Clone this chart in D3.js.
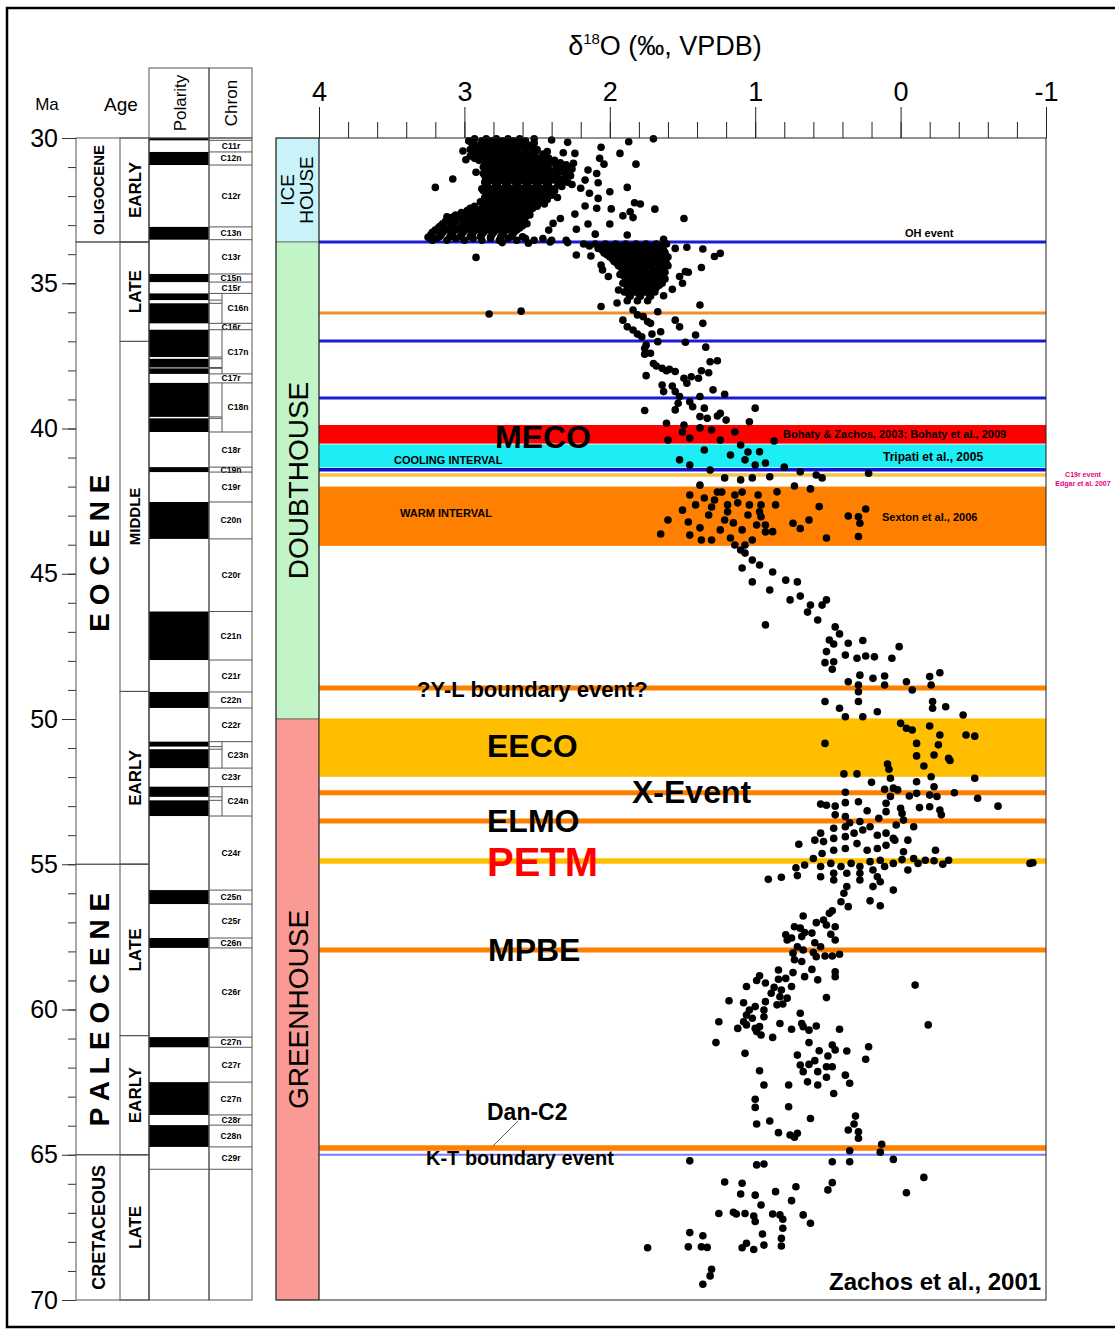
<!DOCTYPE html>
<head>
<meta charset="utf-8">
<script src="https://d3js.org/d3.v7.min.js"></script>
<style>
  body { margin:0; background:#fff; }
  text { font-family: "Liberation Sans", Arial, sans-serif; }
</style>
</head>
<body>
<script>
// ---------------- data ----------------
var ageMajor = [30, 35, 40, 45, 50, 55, 60, 65, 70];
var isoMajor = [4, 3, 2, 1, 0, -1];

// [name, top Ma, base Ma]
var epochs = [["OLIGOCENE", 30, 33.58], ["E O C E N E", 33.58, 55], ["P A L E O C E N E", 55, 65], ["CRETACEOUS", 65, 70]];
var subEpochs = [["EARLY", 30, 33.58], ["LATE", 33.58, 37], ["MIDDLE", 37, 49.05], ["EARLY", 49.05, 55],
                 ["LATE", 55, 60.9], ["EARLY", 60.9, 65], ["LATE", 65, 70]];
var climate = [["ICE|HOUSE", 30, 33.58], ["DOUBTHOUSE", 33.58, 50], ["GREENHOUSE", 50, 70]];

// normal polarity intervals (black)
var normalPolarity = [[30.0, 30.08], [30.48, 30.93], [33.06, 33.5], [34.68, 34.96], [35.35, 35.58], [35.69, 36.38],
  [36.6, 37.54], [37.6, 37.9], [37.93, 38.12], [38.43, 39.6], [39.65, 40.12], [41.33, 41.5], [42.53, 43.8],
  [46.3, 47.97], [49.07, 49.62], [50.78, 50.95], [51.04, 51.69], [52.33, 52.68], [52.8, 53.34], [55.89, 56.37],
  [57.54, 57.88], [60.95, 61.3], [62.5, 63.63], [63.98, 64.73]];

var chrons = [["C11r", 30.08, 30.48], ["C12n", 30.48, 30.93], ["C12r", 30.93, 33.06], ["C13n", 33.06, 33.5],
  ["C13r", 33.5, 34.68], ["C15n", 34.68, 34.96], ["C15r", 34.96, 35.35], ["C16n", 35.35, 36.38], ["C16r", 36.38, 36.6],
  ["C17n", 36.6, 38.12], ["C17r", 38.12, 38.43], ["C18n", 38.43, 40.12], ["C18r", 40.12, 41.33], ["C19n", 41.33, 41.5],
  ["C19r", 41.5, 42.53], ["C20n", 42.53, 43.8], ["C20r", 43.8, 46.3], ["C21n", 46.3, 47.97], ["C21r", 47.97, 49.07],
  ["C22n", 49.07, 49.62], ["C22r", 49.62, 50.78], ["C23n", 50.78, 51.69], ["C23r", 51.69, 52.33], ["C24n", 52.33, 53.34],
  ["C24r", 53.34, 55.89], ["C25n", 55.89, 56.37], ["C25r", 56.37, 57.54], ["C26n", 57.54, 57.88], ["C26r", 57.88, 60.95],
  ["C27n", 60.95, 61.3], ["C27r", 61.3, 62.5], ["C27n", 62.5, 63.63], ["C28r", 63.63, 63.98], ["C28n", 63.98, 64.73],
  ["C29r", 64.73, 65.5]];
var splitChrons = ["C16n", "C17n", "C18n", "C23n", "C24n"];

// event bands [key, top Ma, base Ma] and lines [key, Ma]
var eventBands = [["MECO", 39.88, 40.52], ["COOLING", 40.55, 41.34], ["WARM", 42.0, 44.04], ["EECO", 49.98, 51.99]];
var eventLines = [["OH", 33.58], ["L36", 36.02], ["L37", 36.99], ["L39", 38.95], ["C19r", 41.42], ["C19rb", 41.6],
  ["YL", 48.93], ["X", 52.54], ["ELMO", 53.51], ["PETM", 54.89], ["MPBE", 57.95], ["DanC2", 64.77], ["KT", 65.0]];

// d18O data [d18O permil, age Ma] -- dense clusters as rows [age, [d18O ...]]
var oligoceneRows = [
  [30.03, [2.93, 2.85, 2.78, 2.70, 2.62]],
  [30.1, [2.97, 2.88, 2.81, 2.74, 2.66, 2.58]],
  [30.17, [2.95, 2.87, 2.80, 2.73, 2.66, 2.59, 2.52]],
  [30.25, [2.92, 2.84, 2.77, 2.70, 2.62, 2.55]],
  [30.32, [2.90, 2.83, 2.76, 2.69, 2.62, 2.54]],
  [30.4, [2.96, 2.87, 2.80, 2.73, 2.66, 2.58, 2.50]],
  [30.47, [2.93, 2.86, 2.79, 2.72, 2.65, 2.58, 2.51, 2.43]],
  [30.55, [2.90, 2.83, 2.76, 2.69, 2.62, 2.54, 2.46]],
  [30.62, [2.96, 2.89, 2.82, 2.75, 2.68, 2.61, 2.54, 2.46]],
  [30.7, [2.93, 2.86, 2.79, 2.72, 2.65, 2.58, 2.50, 2.42]],
  [30.77, [2.90, 2.82, 2.75, 2.68, 2.61, 2.54, 2.46, 2.38]],
  [30.85, [2.84, 2.77, 2.70, 2.63, 2.56, 2.49, 2.41, 2.34]],
  [30.92, [2.86, 2.79, 2.72, 2.65, 2.58, 2.51, 2.44, 2.36, 2.30]],
  [31.0, [2.87, 2.80, 2.73, 2.66, 2.59, 2.52, 2.45, 2.37, 2.29]],
  [31.07, [2.84, 2.77, 2.70, 2.63, 2.56, 2.49, 2.42, 2.34, 2.26]],
  [31.15, [2.83, 2.76, 2.69, 2.62, 2.55, 2.48, 2.41, 2.33]],
  [31.22, [2.87, 2.80, 2.73, 2.66, 2.59, 2.52, 2.45, 2.37, 2.30]],
  [31.3, [2.86, 2.79, 2.72, 2.65, 2.58, 2.51, 2.44, 2.36, 2.27]],
  [31.37, [2.83, 2.76, 2.69, 2.62, 2.55, 2.48, 2.40, 2.31]],
  [31.45, [2.82, 2.75, 2.68, 2.61, 2.54, 2.47, 2.40, 2.32]],
  [31.52, [2.86, 2.79, 2.72, 2.65, 2.58, 2.51, 2.44, 2.36, 2.29]],
  [31.6, [2.85, 2.78, 2.71, 2.64, 2.57, 2.50, 2.43, 2.35, 2.26]],
  [31.67, [2.84, 2.77, 2.70, 2.63, 2.56, 2.49, 2.42, 2.33]],
  [31.75, [2.88, 2.81, 2.74, 2.67, 2.60, 2.53, 2.46, 2.38]],
  [31.82, [2.87, 2.80, 2.73, 2.66, 2.59, 2.52, 2.45, 2.38]],
  [31.9, [2.84, 2.77, 2.70, 2.63, 2.56, 2.49, 2.42]],
  [31.97, [2.82, 2.75, 2.68, 2.61, 2.54, 2.47, 2.40]],
  [32.05, [2.86, 2.79, 2.72, 2.65, 2.58, 2.51, 2.44, 2.36]],
  [32.12, [2.85, 2.78, 2.71, 2.64, 2.57, 2.50, 2.43]],
  [32.2, [2.89, 2.82, 2.75, 2.68, 2.61, 2.54, 2.47]],
  [32.27, [2.87, 2.80, 2.73, 2.66, 2.59, 2.52, 2.45]],
  [32.35, [2.93, 2.85, 2.78, 2.71, 2.64, 2.57, 2.50]],
  [32.42, [2.96, 2.88, 2.81, 2.74, 2.67, 2.60, 2.53]],
  [32.5, [2.98, 2.90, 2.83, 2.76, 2.69, 2.62, 2.55]],
  [32.57, [3.02, 2.94, 2.87, 2.80, 2.73, 2.66, 2.59]],
  [32.65, [3.06, 2.98, 2.90, 2.83, 2.76, 2.69, 2.62, 2.55]],
  [32.72, [3.08, 3.01, 2.94, 2.87, 2.80, 2.73, 2.66, 2.58]],
  [32.8, [3.10, 3.02, 2.94, 2.87, 2.80, 2.73, 2.66, 2.59]],
  [32.87, [3.13, 3.06, 2.98, 2.91, 2.84, 2.77, 2.70, 2.62]],
  [32.95, [3.15, 3.08, 3.00, 2.92, 2.85, 2.78, 2.71, 2.64, 2.57]],
  [33.02, [3.16, 3.09, 3.02, 2.95, 2.88, 2.81, 2.74, 2.67, 2.60]],
  [33.1, [3.18, 3.11, 3.04, 2.97, 2.90, 2.83, 2.76, 2.69, 2.62]],
  [33.17, [3.20, 3.13, 3.06, 2.99, 2.92, 2.85, 2.78, 2.71, 2.64]],
  [33.25, [3.22, 3.15, 3.08, 3.01, 2.94, 2.87, 2.80, 2.73, 2.66]],
  [33.32, [3.23, 3.16, 3.09, 3.02, 2.95, 2.88, 2.81, 2.74, 2.67]],
  [33.4, [3.24, 3.17, 3.10, 3.03, 2.96, 2.89, 2.82, 2.75, 2.68, 2.60]],
  [33.46, [3.19, 3.06, 2.94, 2.82, 2.70, 2.58, 2.46]],
  [33.52, [3.22, 3.12, 3.00, 2.88, 2.76, 2.64, 2.52, 2.40, 2.30]]
];
var lateEoceneRows = [
  [33.65, [2.18, 2.10, 2.03, 1.96, 1.89, 1.82, 1.75, 1.68, 1.61]],
  [33.72, [2.14, 2.06, 1.99, 1.92, 1.85, 1.78, 1.71, 1.64]],
  [33.8, [2.08, 2.01, 1.94, 1.87, 1.80, 1.73, 1.66]],
  [33.87, [2.05, 1.98, 1.91, 1.84, 1.77, 1.70, 1.63]],
  [33.95, [2.04, 1.97, 1.90, 1.83, 1.76, 1.69, 1.62]],
  [34.02, [2.02, 1.95, 1.88, 1.81, 1.74, 1.67]],
  [34.1, [2.00, 1.93, 1.86, 1.79, 1.72, 1.65, 1.60]],
  [34.17, [1.98, 1.91, 1.84, 1.77, 1.70, 1.63]],
  [34.25, [1.97, 1.90, 1.83, 1.76, 1.69, 1.63]],
  [34.32, [1.95, 1.88, 1.81, 1.74, 1.67, 1.61]],
  [34.4, [1.94, 1.87, 1.80, 1.73, 1.66, 1.60]],
  [34.47, [1.92, 1.85, 1.78, 1.71, 1.64]],
  [34.55, [1.91, 1.84, 1.77, 1.70, 1.64]],
  [34.62, [1.89, 1.82, 1.75, 1.68, 1.62]],
  [34.7, [1.93, 1.86, 1.79, 1.72, 1.65]],
  [34.77, [1.90, 1.83, 1.76, 1.69]],
  [34.85, [1.89, 1.82, 1.75, 1.68, 1.62]],
  [34.92, [1.86, 1.79, 1.72, 1.65]],
  [35.0, [1.91, 1.84, 1.77, 1.70, 1.64]],
  [35.07, [1.87, 1.80, 1.73, 1.66]],
  [35.15, [1.88, 1.81, 1.74, 1.68]],
  [35.22, [1.85, 1.78, 1.71]],
  [35.3, [1.90, 1.83, 1.76, 1.69]],
  [35.37, [1.87, 1.80, 1.73]],
  [35.45, [1.86, 1.79, 1.72]],
  [35.6, [1.88, 1.81, 1.74]]
];
var ptsOligocene = [[3.20, 31.70], [3.08, 31.41], [2.92, 31.18], [3.25, 33.42], [3.20, 33.19], [3.17, 33.05], [3.12, 32.71],
  [3.11, 32.82], [2.52, 30.03], [2.40, 30.07], [2.29, 30.15], [2.06, 30.32], [1.87, 30.13], [1.70, 30.03], [1.93, 30.53],
  [1.82, 30.90], [2.07, 30.70], [2.04, 30.90], [2.15, 31.10], [2.09, 31.22], [2.08, 31.54], [2.00, 31.85], [1.88, 31.70],
  [2.17, 31.45], [2.25, 30.87], [2.24, 30.53], [2.32, 30.51], [2.20, 31.73], [2.14, 31.90], [2.08, 32.08], [2.09, 32.42],
  [2.17, 32.34], [1.99, 32.44], [1.83, 32.23], [1.79, 32.27], [1.69, 32.45], [1.86, 32.54], [1.84, 32.74], [1.91, 32.68],
  [1.49, 32.77], [2.00, 32.96], [2.15, 32.96], [2.24, 32.62], [2.23, 33.14], [2.10, 33.31], [1.88, 33.34], [1.63, 33.49],
  [2.34, 32.77], [2.39, 32.94], [2.42, 33.17], [3.01, 30.45], [2.99, 30.75]];
var ptsLateEocene = [[2.74, 33.60], [2.56, 33.62], [2.41, 33.58], [2.29, 33.60], [2.92, 34.11], [2.83, 36.06], [2.61, 35.96],
  [2.23, 34.03], [2.13, 34.06], [2.06, 34.37], [2.05, 34.54], [2.01, 34.77], [2.06, 35.80], [1.95, 35.68], [1.94, 35.23],
  [1.55, 33.80], [1.47, 33.76], [1.36, 33.82], [1.28, 34.08], [1.24, 33.97], [1.37, 34.46], [1.48, 34.60], [1.46, 34.62],
  [1.52, 34.77], [1.50, 35.00], [1.57, 35.21], [1.63, 35.43], [1.38, 35.75], [1.36, 36.38], [1.41, 36.78], [1.48, 37.03],
  [1.34, 37.20], [1.55, 36.27], [1.52, 36.50], [1.67, 35.98], [1.65, 36.67], [1.67, 37.01], [1.75, 37.13], [1.91, 36.27],
  [1.88, 36.50], [1.84, 36.61], [1.81, 36.75], [1.78, 36.84], [1.84, 35.92], [1.81, 36.09], [1.77, 36.15], [1.74, 36.32],
  [1.72, 36.38], [1.71, 36.75]];
var ptsMiddleEocene = [[1.76, 37.24], [1.76, 37.44], [1.72, 37.41], [1.70, 37.76], [1.68, 37.85], [1.64, 37.93], [1.61, 38.01],
  [1.59, 37.96], [1.55, 38.04], [1.75, 38.18], [1.64, 38.50], [1.63, 38.73], [1.57, 38.54], [1.55, 38.73], [1.52, 38.90],
  [1.49, 38.27], [1.47, 38.44], [1.44, 38.22], [1.39, 38.27], [1.37, 38.01], [1.32, 38.08], [1.31, 37.70], [1.26, 37.67],
  [1.29, 38.67], [1.21, 38.82], [1.53, 39.13], [1.55, 39.36], [1.45, 39.08], [1.43, 39.25], [1.38, 38.90], [1.35, 39.30],
  [1.33, 39.65], [1.38, 39.59], [1.24, 39.48], [1.20, 39.71], [1.26, 39.57], [1.00, 39.30], [1.04, 39.77], [1.76, 39.38],
  [1.61, 39.82], [1.49, 39.88],
  [1.60, 40.40], [1.50, 40.12], [1.45, 40.33], [1.38, 39.98], [1.30, 40.05], [1.24, 40.40], [1.14, 40.12], [1.10, 40.57],
  [1.05, 40.81], [1.35, 40.74], [1.17, 40.91], [1.07, 41.08], [1.00, 41.26], [1.52, 41.08], [1.45, 41.26], [1.31, 41.43],
  [1.21, 41.70], [1.10, 41.77], [1.02, 41.70], [1.38, 41.95], [1.26, 42.19], [1.09, 42.19], [0.98, 42.29],
  [1.65, 43.63], [1.60, 43.15], [1.50, 42.81], [1.46, 43.22], [1.41, 42.63], [1.38, 43.42], [1.32, 42.98], [1.28, 42.46],
  [1.23, 42.19], [1.19, 42.87], [1.15, 43.25], [1.12, 42.56], [1.09, 43.49], [1.05, 42.98], [1.02, 43.84], [0.99, 43.32],
  [1.17, 43.77], [1.24, 43.49], [1.30, 43.84], [1.07, 44.01], [0.97, 42.87], [1.21, 43.15],
  [1.45, 42.29], [1.35, 42.39], [1.14, 42.29], [1.19, 42.63], [1.30, 42.70], [1.04, 42.63], [0.93, 43.56], [1.14, 44.01],
  [1.37, 43.84], [1.45, 43.67],
  [0.87, 40.43], [0.97, 40.80], [0.93, 41.19], [0.80, 41.33], [0.69, 41.49], [0.58, 41.60], [0.54, 41.70], [0.22, 41.54],
  [0.90, 41.66], [0.73, 41.98], [0.62, 42.08], [0.85, 42.18], [0.86, 42.63], [0.56, 42.69], [0.96, 42.63], [0.36, 43.01],
  [0.29, 43.04], [0.24, 42.77], [0.28, 43.26], [0.93, 43.32], [0.88, 43.55], [0.74, 43.26], [0.69, 43.44], [0.63, 43.15],
  [0.51, 43.77], [0.29, 43.72], [0.96, 43.04],
  [1.10, 44.18], [1.07, 44.29], [1.02, 44.53], [0.97, 44.70], [1.09, 44.80], [0.88, 44.94], [1.02, 45.28], [0.79, 45.22],
  [0.90, 45.56], [0.71, 45.28], [0.76, 45.90], [0.69, 45.77], [0.62, 46.08], [0.54, 46.08], [0.51, 45.90], [0.93, 46.76],
  [0.64, 46.32], [0.57, 46.59], [0.45, 46.83], [0.42, 47.07], [0.49, 47.28],
  [0.46, 47.42], [0.36, 47.39], [0.26, 47.30], [0.01, 47.51], [0.51, 47.68], [0.38, 47.80], [0.30, 47.91], [0.24, 47.83],
  [0.18, 47.86], [0.06, 47.91], [0.52, 48.06], [0.46, 48.03], [0.47, 48.29], [0.28, 48.49], [0.19, 48.60], [0.11, 48.52],
  [0.36, 48.72], [0.29, 48.83], [0.29, 49.06], [0.11, 48.83], [-0.04, 48.72], [-0.08, 49.00], [-0.20, 48.54],
  [-0.27, 48.41], [-0.21, 48.83]];
var ptsEarlyEocene = [[0.52, 49.40], [0.42, 49.63], [0.38, 49.92], [0.29, 49.40], [0.26, 49.92], [0.16, 49.75],
  [-0.22, 49.40], [-0.22, 49.63], [-0.31, 49.58], [-0.43, 49.86],
  [0.52, 50.84], [0.00, 50.15], [-0.04, 50.32], [-0.08, 50.38], [-0.20, 50.24], [-0.27, 50.55], [-0.45, 50.55],
  [-0.51, 50.59], [-0.11, 50.84], [-0.26, 50.89], [-0.23, 51.24], [-0.11, 51.27], [-0.33, 51.35], [-0.34, 51.43],
  [-0.16, 51.62], [0.09, 51.55], [0.08, 51.73], [-0.21, 51.99], [-0.51, 52.04],
  [0.39, 51.89], [0.30, 51.89], [0.20, 52.18], [0.07, 52.04], [-0.11, 52.16], [-0.23, 52.33], [0.11, 52.42], [0.05, 52.38],
  [0.02, 52.44], [0.38, 52.52], [0.07, 52.67], [-0.06, 52.65], [-0.11, 52.56], [-0.20, 52.62], [-0.25, 52.67],
  [-0.37, 52.54], [-0.53, 52.73], [-0.67, 53.00], [0.55, 52.93], [0.51, 52.97], [0.45, 53.00], [0.38, 52.88],
  [0.29, 52.85], [0.23, 53.16], [0.10, 52.90], [0.10, 53.19], [0.00, 53.07], [-0.01, 53.25], [-0.13, 53.05],
  [-0.20, 53.02], [-0.27, 53.13], [-0.28, 53.30], [0.45, 53.30], [0.38, 53.36], [0.35, 53.57], [0.28, 53.53],
  [0.15, 53.42], [-0.02, 53.48], [-0.09, 53.71], [0.03, 53.65],
  [0.55, 53.93], [0.46, 53.76], [0.38, 53.71], [0.59, 54.17], [0.53, 54.22], [0.46, 54.11], [0.38, 54.05], [0.32, 53.93],
  [0.26, 53.82], [0.21, 53.71], [0.16, 54.00], [0.10, 53.93], [0.05, 54.11], [-0.05, 54.17], [0.70, 54.31], [0.60, 54.80],
  [0.54, 54.63], [0.46, 54.52], [0.38, 54.46], [0.30, 54.29], [0.23, 54.52], [0.16, 54.46], [0.10, 54.35], [0.04, 54.17],
  [-0.02, 54.57], [-0.24, 54.52], [-0.09, 54.80], [-0.17, 54.86], [-0.23, 54.88], [-0.33, 54.86], [-0.29, 55.00],
  [-0.91, 54.95], [-0.89, 54.97]];
var ptsPaleocene = [[0.55, 55.08], [0.48, 54.97], [0.41, 55.08], [0.34, 54.97], [0.28, 55.08], [0.21, 54.91], [0.14, 54.86],
  [0.11, 55.08], [0.05, 54.97], [-0.01, 54.84], [-0.12, 54.97], [-0.05, 55.20], [0.72, 55.12], [0.66, 55.03], [0.71, 55.39],
  [0.82, 55.45], [0.91, 55.52], [0.55, 55.43], [0.46, 55.31], [0.37, 55.31], [0.28, 55.31], [0.19, 55.20], [0.16, 55.43],
  [0.46, 55.54], [0.37, 55.77], [0.28, 55.54], [0.19, 55.77], [0.14, 55.60], [0.05, 55.89], [0.39, 56.00], [0.41, 56.29],
  [0.36, 56.46], [0.21, 56.26], [0.14, 56.43], [0.47, 56.60], [0.49, 56.69], [0.67, 56.78],
  [0.58, 57.01], [0.53, 56.92], [0.51, 57.09], [0.45, 57.15], [0.73, 57.15], [0.69, 57.20], [0.66, 57.35], [0.61, 57.37],
  [0.79, 57.43], [0.75, 57.54], [0.68, 57.49], [0.48, 57.41], [0.45, 57.61], [0.59, 57.70], [0.55, 57.84], [0.78, 57.61],
  [0.71, 57.84], [0.67, 57.95], [0.60, 58.04], [0.74, 58.06], [0.73, 58.29], [0.68, 58.35], [0.58, 58.18], [0.52, 58.16],
  [0.47, 58.16], [0.42, 58.10], [0.45, 58.70], [0.45, 58.87], [0.61, 58.62], [0.57, 58.98], [0.66, 58.87], [0.74, 58.73],
  [0.84, 58.64], [0.79, 58.93], [0.84, 58.96], [0.97, 58.84], [0.99, 59.00], [0.93, 59.09], [1.06, 59.21], [0.75, 59.21],
  [0.82, 59.33], [0.87, 59.24], [0.89, 59.44], [0.83, 59.56], [0.78, 59.61], [0.85, 59.84], [0.81, 59.81], [1.18, 59.70],
  [1.08, 59.77], [0.93, 59.73], [0.51, 59.59], [-0.10, 59.16], [1.04, 60.02], [1.00, 59.90], [0.94, 60.02], [1.06, 60.19],
  [1.02, 60.30], [0.94, 60.25], [1.25, 60.42], [1.08, 60.42], [1.12, 60.65], [1.06, 60.53], [1.00, 60.65], [0.97, 60.59],
  [0.99, 60.76], [0.96, 60.88], [0.88, 60.96], [0.83, 60.48], [0.75, 60.68], [0.69, 60.13], [0.68, 60.48], [0.67, 60.59],
  [0.63, 60.71], [0.58, 60.57], [0.42, 60.68], [-0.19, 60.53], [1.27, 61.14], [1.07, 61.51], [0.63, 61.14], [0.56, 61.42],
  [0.47, 61.22], [0.45, 61.39], [0.50, 61.60], [0.37, 61.43], [0.22, 61.28], [0.24, 61.71], [0.71, 61.57], [0.69, 61.91],
  [0.67, 62.14], [0.63, 61.89], [0.59, 61.76], [0.57, 62.14], [0.51, 61.97], [0.47, 61.97], [0.51, 62.33], [0.64, 62.49],
  [0.57, 62.60], [0.38, 62.26], [0.35, 62.54], [0.46, 62.89], [0.97, 62.11], [0.94, 62.60], [0.77, 62.60], [1.00, 63.09],
  [1.00, 63.37], [0.77, 63.35], [0.62, 63.75], [0.99, 63.94], [0.90, 63.84], [0.84, 64.24], [0.76, 64.32], [0.73, 64.40],
  [0.71, 64.26], [0.31, 63.67], [0.32, 63.94], [0.36, 64.15], [0.29, 64.21], [0.29, 64.43], [0.13, 64.64], [0.14, 64.91],
  [0.35, 64.86]];
var ptsCretaceous = [[0.35, 65.24], [0.47, 65.24], [0.05, 65.16], [1.45, 65.21], [0.99, 65.35], [0.94, 65.32], [-0.16, 65.78],
  [-0.04, 66.31], [0.47, 65.96], [0.50, 66.21], [1.21, 65.94], [1.09, 65.98], [1.10, 66.35], [1.00, 66.39], [0.86, 66.27],
  [0.72, 66.10], [0.75, 66.58], [0.96, 66.73], [1.25, 67.02], [1.15, 66.98], [1.13, 67.04], [1.07, 67.02], [1.01, 67.11],
  [1.00, 67.30], [0.88, 67.04], [0.83, 67.07], [0.81, 67.22], [0.67, 67.07], [0.62, 67.36], [0.81, 67.53], [0.82, 67.88],
  [0.82, 68.14], [0.95, 67.73], [0.94, 68.11], [1.06, 68.05], [1.09, 68.20], [1.01, 68.26], [1.45, 67.68], [1.36, 67.79],
  [1.46, 68.17], [1.37, 68.17], [1.33, 68.19], [1.74, 68.20], [1.30, 68.94], [1.31, 69.17], [1.36, 69.46]];

// ---------------- styles ----------------
var climateFill = { "ICE|HOUSE": "#c7f3f9", "DOUBTHOUSE": "#c1f5c8", "GREENHOUSE": "#f99b94" };
var bandFill = { MECO: "#ff0000", COOLING: "#1deef5", WARM: "#ff8000", EECO: "#ffbf00" };
var lineStyle = {
  OH: ["#1a1ad8", 3], L36: ["#f58c2e", 3], L37: ["#1a1ad8", 3], L39: ["#1a1ad8", 3], C19r: ["#1212d0", 3.5],
  C19rb: ["#f6c445", 3.5], YL: ["#ff8000", 5], X: ["#ff8000", 5], ELMO: ["#ff8000", 5], PETM: ["#ffc000", 5.5],
  MPBE: ["#ff8000", 5], DanC2: ["#ff8000", 5.5], KT: ["#7b7bff", 1.8]
};
var epochFont = { "OLIGOCENE": 15, "E O C E N E": 28, "P A L E O C E N E": 28, "CRETACEOUS": 18 };
var subFont = { "EARLY": 17, "LATE": 17, "MIDDLE": 15 };

// ---------------- drawing ----------------
var svg = d3.select("body").append("svg").attr("width", 1115).attr("height", 1333);
var y = d3.scaleLinear().domain([30, 70]).range([138, 1300]);
var x = d3.scaleLinear().domain([4, -1]).range([319, 1046]);
var plotL = 319, plotR = 1046;

svg.append("rect").attr("x", 7).attr("y", 8).attr("width", 1130).attr("height", 1319)
  .attr("fill", "none").attr("stroke", "#000").attr("stroke-width", 2.5);

function rows(r) { var out = []; r.forEach(function (d) { d[1].forEach(function (v) { out.push([v, d[0]]); }); }); return out; }
var points = [].concat(rows(oligoceneRows), ptsOligocene, rows(lateEoceneRows), ptsLateEocene,
  ptsMiddleEocene, ptsEarlyEocene, ptsPaleocene, ptsCretaceous);

// ---- left time scale
var left = svg.append("g");
left.append("g").attr("transform", "translate(76,0)")
  .call(d3.axisLeft(y).tickValues(d3.range(30, 71, 1)).tickSize(8).tickFormat(""))
  .call(function (g) { g.select(".domain").remove(); g.selectAll("line").attr("stroke", "#333"); });
left.append("g").attr("transform", "translate(76,0)")
  .call(d3.axisLeft(y).tickValues(ageMajor).tickSize(14).tickPadding(4).tickFormat(function (d) { return String(d); }))
  .call(function (g) {
    g.select(".domain").remove();
    g.selectAll("line").attr("stroke", "#333");
    g.selectAll("text").attr("font-size", 25).attr("fill", "#000").attr("font-family", "Liberation Sans, Arial");
  });
left.append("text").attr("x", 47).attr("y", 110).attr("text-anchor", "middle").attr("font-size", 17).text("Ma");
left.append("text").attr("x", 121).attr("y", 111).attr("text-anchor", "middle").attr("font-size", 19).text("Age");

epochs.forEach(function (e) {
  left.append("rect").attr("x", 76).attr("y", y(e[1])).attr("width", 73).attr("height", y(e[2]) - y(e[1]))
    .attr("fill", "none").attr("stroke", "#555").attr("stroke-width", 1);
  left.append("text").attr("transform", "translate(99," + (y(e[1]) + y(e[2])) / 2 + ") rotate(-90)")
    .attr("text-anchor", "middle").attr("dy", "0.36em").attr("font-weight", "bold")
    .attr("font-size", epochFont[e[0]]).text(e[0]);
});
subEpochs.forEach(function (e) {
  left.append("rect").attr("x", 120).attr("y", y(e[1])).attr("width", 29).attr("height", y(e[2]) - y(e[1]))
    .attr("fill", "none").attr("stroke", "#555").attr("stroke-width", 1);
  left.append("text").attr("transform", "translate(135," + (y(e[1]) + y(e[2])) / 2 + ") rotate(-90)")
    .attr("text-anchor", "middle").attr("dy", "0.36em").attr("font-weight", "bold")
    .attr("font-size", subFont[e[0]]).text(e[0]);
});

// ---- polarity + chron columns
var mag = svg.append("g");
mag.append("rect").attr("x", 149).attr("y", 68).attr("width", 60).attr("height", 70).attr("fill", "none").attr("stroke", "#555");
mag.append("rect").attr("x", 209).attr("y", 68).attr("width", 43).attr("height", 70).attr("fill", "none").attr("stroke", "#555");
mag.append("text").attr("transform", "translate(180,103) rotate(-90)").attr("text-anchor", "middle").attr("dy", "0.36em")
  .attr("font-size", 17).text("Polarity");
mag.append("text").attr("transform", "translate(231,103) rotate(-90)").attr("text-anchor", "middle").attr("dy", "0.36em")
  .attr("font-size", 17).text("Chron");
mag.selectAll("rect.pol").data(normalPolarity).enter().append("rect").attr("class", "pol")
  .attr("x", 149).attr("width", 60).attr("y", function (d) { return y(d[0]); })
  .attr("height", function (d) { return y(d[1]) - y(d[0]); }).attr("fill", "#000");
chrons.forEach(function (c) {
  var split = splitChrons.indexOf(c[0]) >= 0;
  mag.append("line").attr("x1", 209).attr("x2", 252).attr("y1", y(c[1])).attr("y2", y(c[1])).attr("stroke", "#555");
  if (split) {
    mag.append("line").attr("x1", 222).attr("x2", 222).attr("y1", y(c[1])).attr("y2", y(c[2])).attr("stroke", "#555");
    normalPolarity.forEach(function (p) {
      [p[0], p[1]].forEach(function (b) {
        if (b > c[1] + 0.02 && b < c[2] - 0.02)
          mag.append("line").attr("x1", 209).attr("x2", 222).attr("y1", y(b)).attr("y2", y(b)).attr("stroke", "#555");
      });
    });
  }
  mag.append("text").attr("x", split ? 238 : 231).attr("y", (y(c[1]) + y(c[2])) / 2).attr("dy", "0.35em")
    .attr("text-anchor", "middle").attr("font-size", 8.5).attr("font-weight", "bold").text(c[0]);
});
mag.append("line").attr("x1", 149).attr("x2", 252).attr("y1", y(65.5)).attr("y2", y(65.5)).attr("stroke", "#555");
mag.append("rect").attr("x", 149).attr("y", 138).attr("width", 60).attr("height", 1162).attr("fill", "none").attr("stroke", "#555");
mag.append("rect").attr("x", 209).attr("y", 138).attr("width", 43).attr("height", 1162).attr("fill", "none").attr("stroke", "#555");

// ---- climate state column
climate.forEach(function (c) {
  svg.append("rect").attr("x", 276).attr("y", y(c[1])).attr("width", 43).attr("height", y(c[2]) - y(c[1]))
    .attr("fill", climateFill[c[0]]).attr("stroke", "#666").attr("stroke-width", 0.8);
  var parts = c[0].split("|");
  var t = svg.append("text").attr("transform", "translate(298," + (y(c[1]) + y(c[2])) / 2 + ") rotate(-90)")
    .attr("text-anchor", "middle").attr("font-size", parts.length > 1 ? 19 : 28);
  if (parts.length > 1) {
    t.append("tspan").attr("x", 0).attr("dy", "-0.2em").text(parts[0]);
    t.append("tspan").attr("x", 0).attr("dy", "1.0em").text(parts[1]);
  } else {
    t.attr("dy", "0.36em").text(c[0]);
  }
});

// ---- event bands and lines
svg.selectAll("rect.band").data(eventBands).enter().append("rect").attr("class", "band")
  .attr("x", plotL).attr("width", plotR - plotL).attr("y", function (d) { return y(d[1]); })
  .attr("height", function (d) { return y(d[2]) - y(d[1]); }).attr("fill", function (d) { return bandFill[d[0]]; });
svg.selectAll("line.ev").data(eventLines).enter().append("line").attr("class", "ev")
  .attr("x1", plotL).attr("x2", plotR).attr("y1", function (d) { return y(d[1]); }).attr("y2", function (d) { return y(d[1]); })
  .attr("stroke", function (d) { return lineStyle[d[0]][0]; }).attr("stroke-width", function (d) { return lineStyle[d[0]][1]; });

// ---- data points
svg.selectAll("circle.pt").data(points).enter().append("circle").attr("class", "pt")
  .attr("cx", function (d) { return x(d[0]); }).attr("cy", function (d) { return y(d[1]); })
  .attr("r", 3.8).attr("fill", "#000");

// ---- plot frame and top axis
svg.append("rect").attr("x", 276).attr("y", 138).attr("width", plotR - 276).attr("height", 1162)
  .attr("fill", "none").attr("stroke", "#222").attr("stroke-width", 1);
svg.append("line").attr("x1", plotL).attr("x2", plotL).attr("y1", 138).attr("y2", 1300).attr("stroke", "#222");
svg.append("g").attr("transform", "translate(0,138)")
  .call(d3.axisTop(x).tickValues(d3.range(-1, 4.01, 0.2)).tickSize(16).tickFormat(""))
  .call(function (g) { g.select(".domain").remove(); g.selectAll("line").attr("stroke", "#222"); });
svg.append("g").attr("transform", "translate(0,138)")
  .call(d3.axisTop(x).tickValues(isoMajor).tickSize(31).tickPadding(6).tickFormat(function (d) { return String(d); }))
  .call(function (g) {
    g.select(".domain").remove();
    g.selectAll("line").attr("stroke", "#222");
    g.selectAll("text").attr("font-size", 27).attr("fill", "#000").attr("font-family", "Liberation Sans, Arial");
  });
var title = svg.append("text").attr("x", 665).attr("y", 55).attr("text-anchor", "middle").attr("font-size", 27);
title.append("tspan").text("\u03b4");
title.append("tspan").attr("font-size", 15).attr("dy", -11).text("18");
title.append("tspan").attr("dy", 11).text("O (\u2030, VPDB)");

// ---- annotations
var notes = [
  ["OH event", 905, y(33.58) - 5, 11, "#000", "start"],
  ["MECO", 495, 448, 32, "#000", "start"],
  ["Bohaty & Zachos, 2003; Bohaty et al., 2009", 783, 438, 11, "#000", "start"],
  ["COOLING INTERVAL", 394, 464, 11, "#000", "start"],
  ["Tripati et al., 2005", 883, 461, 12, "#000", "start"],
  ["WARM INTERVAL", 400, 517, 11, "#000", "start"],
  ["Sexton et al., 2006", 882, 521, 11, "#000", "start"],
  ["?Y-L boundary event?", 417, 697, 22, "#000", "start"],
  ["EECO", 487, 757, 32, "#000", "start"],
  ["X-Event", 632, 803, 32, "#000", "start"],
  ["ELMO", 487, 832, 32, "#000", "start"],
  ["PETM", 487, 876, 40, "#ff0000", "start"],
  ["MPBE", 488, 961, 32, "#000", "start"],
  ["Dan-C2", 487, 1120, 23, "#000", "start"],
  ["K-T boundary event", 426, 1165, 20, "#000", "start"],
  ["Zachos et al., 2001", 829, 1290, 24, "#000", "start"],
  ["C19r event", 1083, 477, 7, "#e6007e", "middle"],
  ["Edgar et al. 2007", 1083, 486, 7, "#e6007e", "middle"]
];
svg.append("line").attr("x1", 518).attr("y1", 1121).attr("x2", 493).attr("y2", 1146).attr("stroke", "#333").attr("stroke-width", 0.8);
notes.forEach(function (n) {
  svg.append("text").attr("x", n[1]).attr("y", n[2]).attr("font-size", n[3]).attr("fill", n[4])
    .attr("text-anchor", n[5]).attr("font-weight", "bold").text(n[0]);
});
</script>
</body>
